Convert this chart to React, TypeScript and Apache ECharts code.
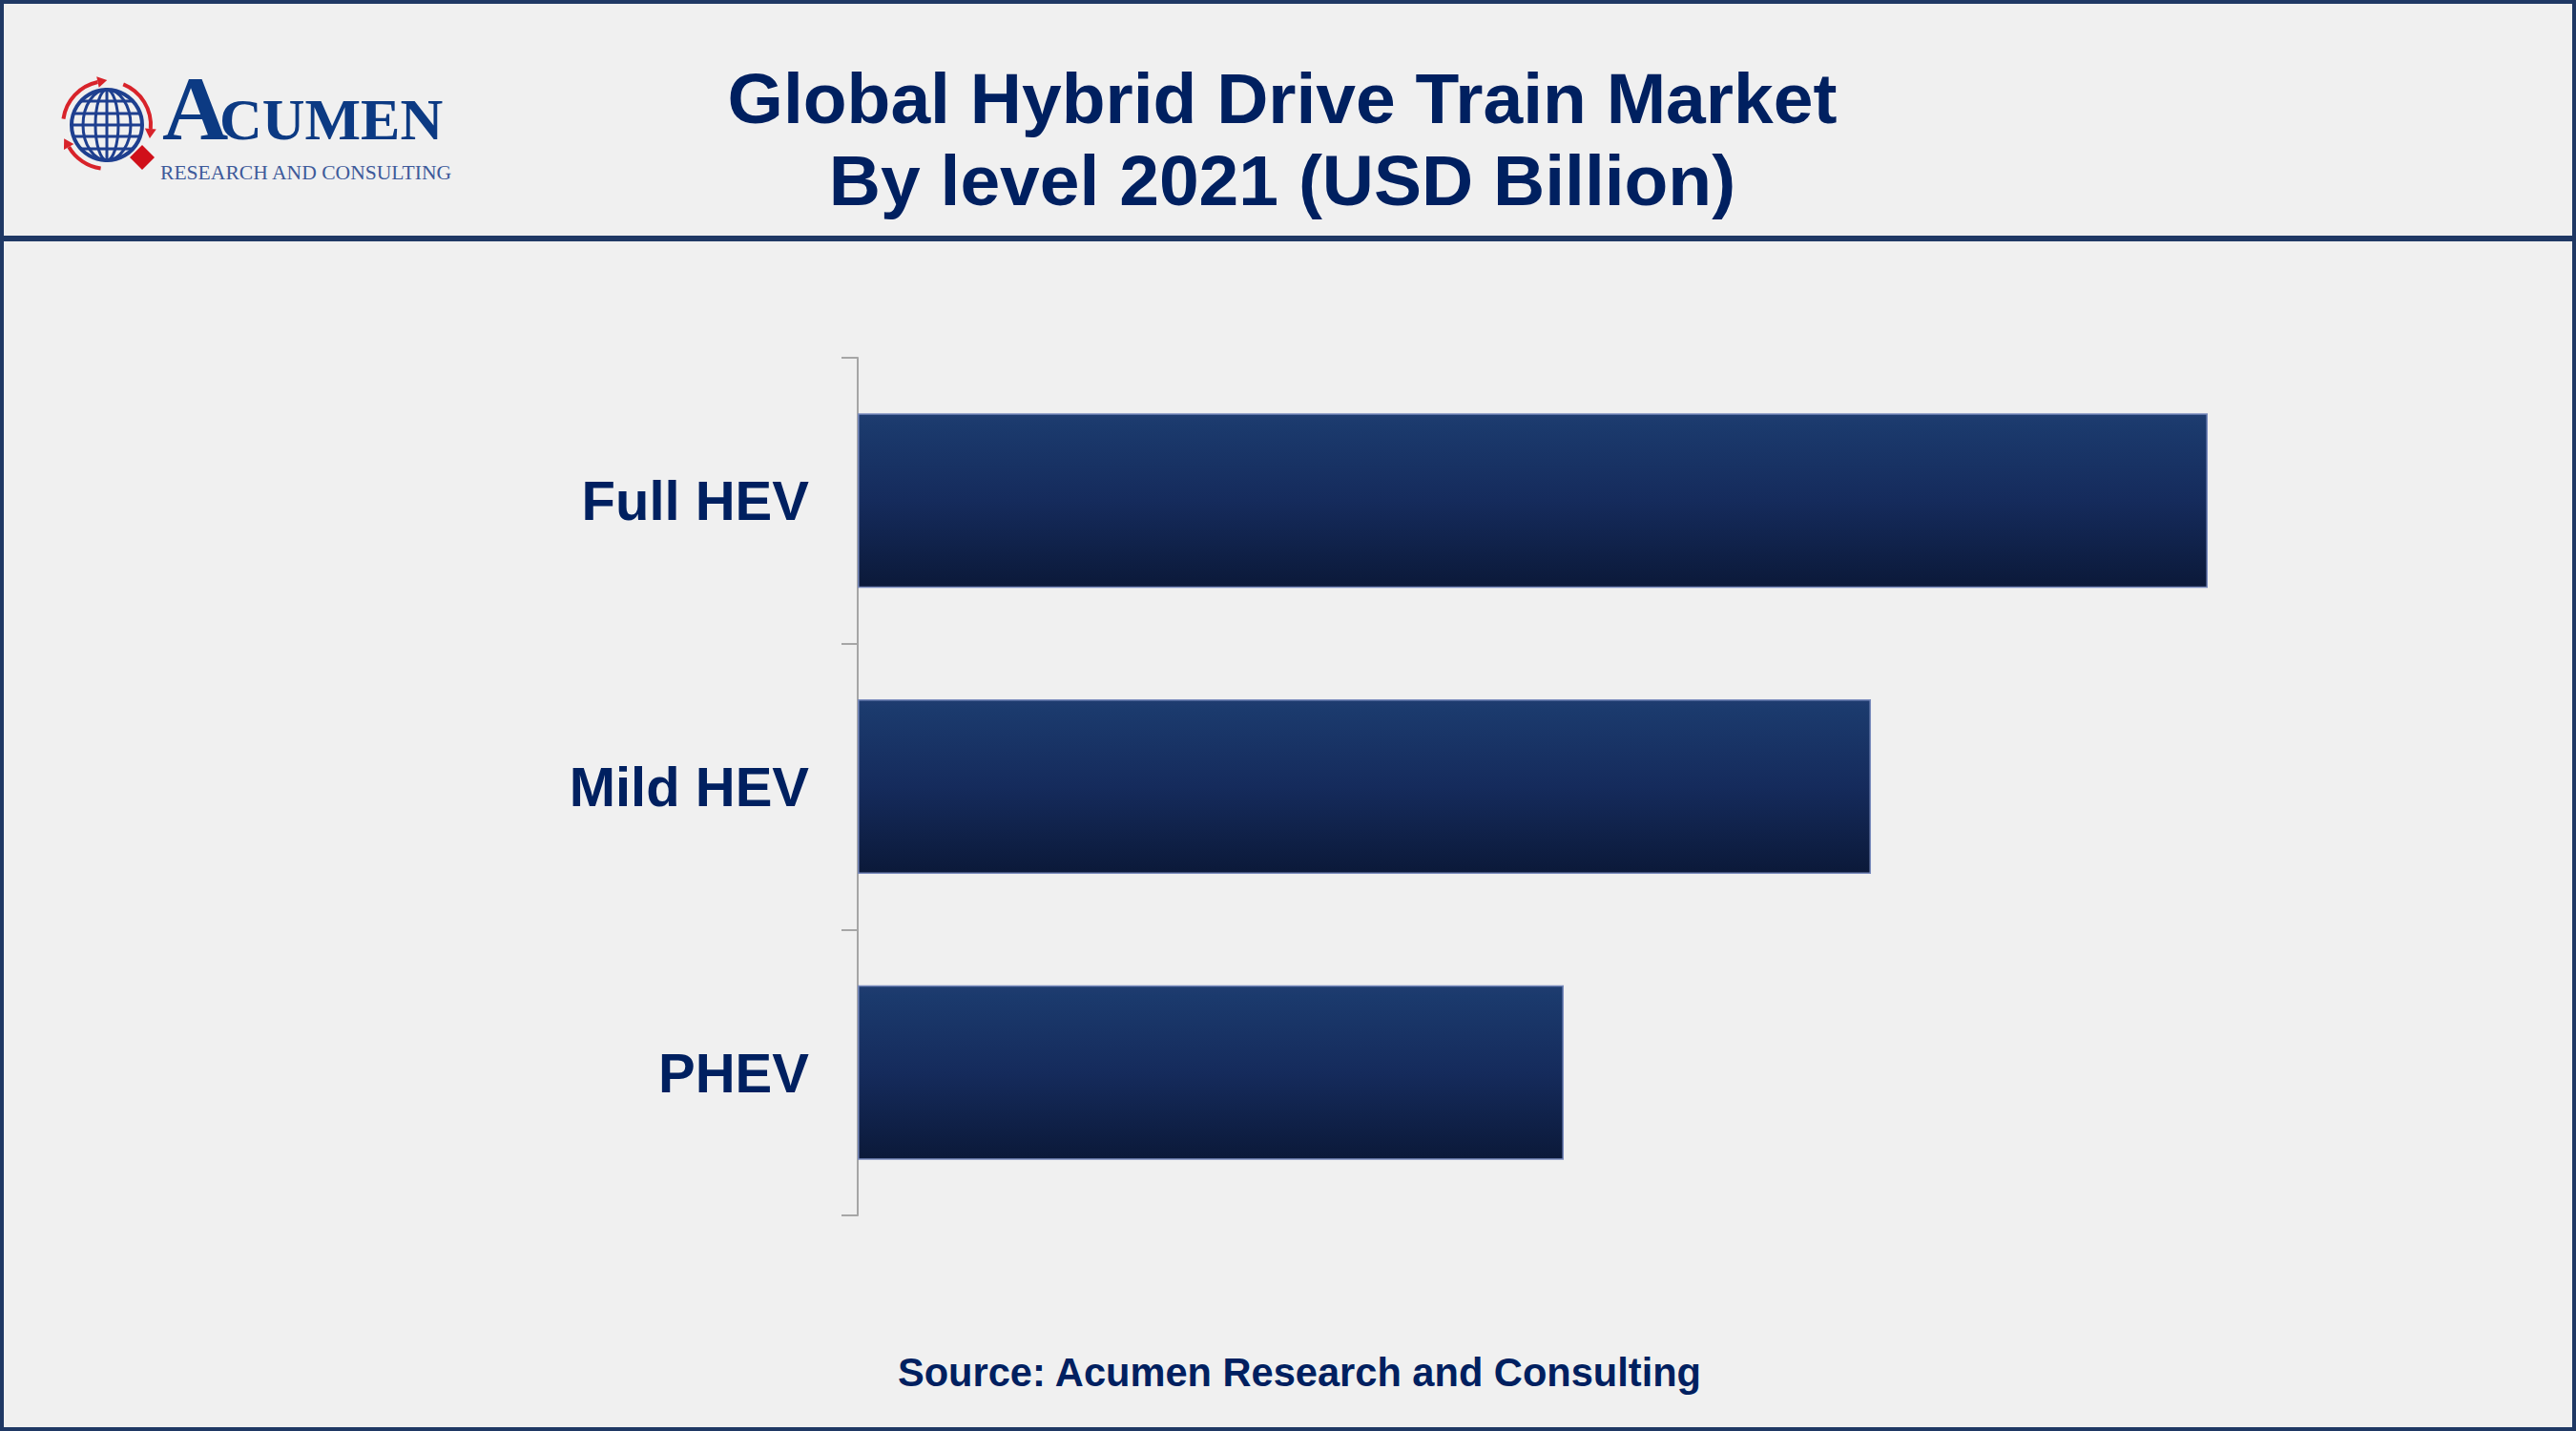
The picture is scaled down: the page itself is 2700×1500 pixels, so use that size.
import React, { useEffect, useRef } from "react";
import * as echarts from "echarts";

const categories = ["Full HEV", "Mild HEV", "PHEV"];
const values = [14.15, 10.62, 7.4];
const titleLines = ["Global Hybrid Drive Train Market", "By level 2021 (USD Billion)"];
const sourceText = "Source: Acumen Research and Consulting";

const NAVY = "#002060";
const FRAME = "#1f3864";

function arrowHead(cx: number, cy: number, r: number, deg: number, color: string) {
  const t = (deg * Math.PI) / 180;
  const px = cx + r * Math.cos(t);
  const py = cy + r * Math.sin(t);
  const tx = -Math.sin(t);
  const ty = Math.cos(t);
  const nx = Math.cos(t);
  const ny = Math.sin(t);
  return {
    type: "polygon",
    shape: {
      points: [
        [px + tx * 10, py + ty * 10],
        [px + nx * 6, py + ny * 6],
        [px - nx * 6, py - ny * 6],
      ],
    },
    style: { fill: color },
  };
}

function buildLogo() {
  const cx = 112;
  const cy = 131;
  const r = 37;
  const blue = "#1e3f8f";
  const red = "#d8232a";
  const els: any[] = [];
  els.push({ type: "circle", shape: { cx, cy, r }, style: { fill: "none", stroke: blue, lineWidth: 4 } });
  [12, 25].forEach((rx) =>
    els.push({ type: "ellipse", shape: { cx, cy, rx, ry: r }, style: { fill: "none", stroke: blue, lineWidth: 3 } })
  );
  els.push({ type: "line", shape: { x1: cx, y1: cy - r, x2: cx, y2: cy + r }, style: { stroke: blue, lineWidth: 3 } });
  [-25, -12, 0, 12, 25].forEach((dy) => {
    const hw = Math.sqrt(r * r - dy * dy);
    els.push({ type: "line", shape: { x1: cx - hw, y1: cy + dy, x2: cx + hw, y2: cy + dy }, style: { stroke: blue, lineWidth: 3 } });
  });
  const ar = 46;
  const arcs = [
    [188, 258],
    [292, 365],
    [98, 150],
  ];
  arcs.forEach(([s, e]) => {
    els.push({
      type: "arc",
      shape: { cx, cy, r: ar, startAngle: (s * Math.PI) / 180, endAngle: (e * Math.PI) / 180, clockwise: true },
      style: { stroke: red, lineWidth: 4, fill: "none" },
    });
    els.push(arrowHead(cx, cy, ar, e, red));
  });
  els.push({
    type: "polygon",
    shape: { points: [[149, 152], [162, 165], [149, 178], [136, 165]] },
    style: { fill: "#d0101a" },
  });
  els.push({
    type: "text",
    x: 170,
    y: 113,
    style: { text: "A", fontSize: 96, lineHeight: 60, fontWeight: "bold", fontFamily: "Liberation Serif", fill: "#0c3a83", verticalAlign: "middle", align: "left" },
  });
  els.push({
    type: "text",
    x: 230,
    y: 124.5,
    style: { text: "CUMEN", fontSize: 62, lineHeight: 40, fontWeight: "bold", fontFamily: "Liberation Serif", fill: "#0c3a83", verticalAlign: "middle", align: "left" },
  });
  els.push({
    type: "text",
    x: 168,
    y: 181,
    style: { text: "RESEARCH AND CONSULTING", fontSize: 21.6, lineHeight: 16, fontFamily: "Liberation Serif", fill: "#3d5a9a", verticalAlign: "middle", align: "left" },
  });
  return els;
}

export default function App() {
  const ref = useRef<HTMLDivElement>(null);
  useEffect(() => {
    document.body.style.margin = "0";
    const chart = echarts.init(ref.current!, undefined, { renderer: "svg" });
    const option: any = {
      animation: false,
      backgroundColor: "#f0f0f0",
      grid: { left: 899, top: 375, width: 1600, height: 899, containLabel: false },
      xAxis: { type: "value", min: 0, max: 16, show: false, splitLine: { show: false } },
      yAxis: {
        type: "category",
        data: categories,
        inverse: true,
        axisLine: { show: true, lineStyle: { color: "#a6a6a6", width: 2 } },
        axisTick: { show: true, length: 17, lineStyle: { color: "#a6a6a6", width: 2 } },
        axisLabel: {
          fontSize: 58,
          fontWeight: "bold",
          color: NAVY,
          margin: 51,
          fontFamily: "Liberation Sans",
        },
      },
      series: [
        {
          type: "bar",
          data: values,
          barWidth: 183,
          itemStyle: {
            color: new echarts.graphic.LinearGradient(0, 0, 0, 1, [
              { offset: 0, color: "#1f3c70" },
              { offset: 0.06, color: "#1b3a6d" },
              { offset: 0.5, color: "#152b5c" },
              { offset: 1, color: "#0b1939" },
            ]),
            borderColor: "#7a8bbd",
            borderWidth: 1.5,
          },
        },
      ],
      graphic: [
        { type: "rect", shape: { x: 2, y: 2, width: 2696, height: 1496 }, style: { fill: "none", stroke: FRAME, lineWidth: 4 }, z: 100 },
        { type: "rect", shape: { x: 0, y: 247, width: 2700, height: 6 }, style: { fill: FRAME }, z: 100 },
        ...buildLogo(),
        {
          type: "text",
          x: 1344,
          y: 103,
          style: { text: titleLines[0], fontSize: 75, fontWeight: "bold", fontFamily: "Liberation Sans", fill: NAVY, align: "center", verticalAlign: "middle" },
        },
        {
          type: "text",
          x: 1344,
          y: 189,
          style: { text: titleLines[1], fontSize: 75, fontWeight: "bold", fontFamily: "Liberation Sans", fill: NAVY, align: "center", verticalAlign: "middle" },
        },
        {
          type: "text",
          x: 1362,
          y: 1438,
          style: { text: sourceText, fontSize: 41.6, fontWeight: "bold", fontFamily: "Liberation Sans", fill: NAVY, align: "center", verticalAlign: "middle" },
        },
      ],
    };
    chart.setOption(option);
    return () => chart.dispose();
  }, []);
  return <div ref={ref} style={{ width: 2700, height: 1500 }} />;
}
